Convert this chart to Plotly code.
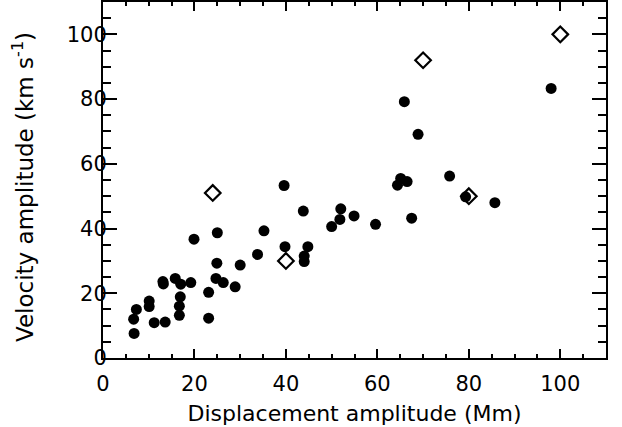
import plotly.graph_objects as go

# Filled circles: displacement amplitude (Mm), velocity amplitude (km/s)
disp_obs = [6.8, 6.7, 7.3, 10.1, 10.1, 11.2, 13.6, 13.1, 13.2, 15.8, 17.0, 16.9,
            16.7, 16.7, 19.2, 19.9, 23.1, 23.1, 25.0, 24.9, 24.7, 26.3, 28.9, 30.0,
            33.8, 35.2, 39.6, 39.8, 43.8, 44.8, 44.0, 44.0, 50.0, 52.0, 51.8, 54.9,
            59.6, 64.4, 65.1, 66.5, 65.9, 68.9, 67.5, 75.8, 79.3, 85.7, 98.0]
vel_obs = [7.6, 12.0, 15.0, 17.6, 15.9, 10.9, 11.1, 23.6, 22.9, 24.6, 22.8, 18.9,
           16.0, 13.2, 23.3, 36.7, 20.3, 12.3, 38.7, 29.3, 24.6, 23.3, 22.0, 28.7,
           32.0, 39.3, 53.3, 34.4, 45.4, 34.4, 31.5, 29.8, 40.6, 46.1, 42.8, 43.9,
           41.3, 53.4, 55.5, 54.5, 79.2, 69.1, 43.2, 56.2, 49.8, 48.0, 83.3]

# Open diamonds
disp_model = [24, 40, 70, 80, 100]
vel_model = [51, 30, 92, 50, 100]

x_ticks = [0, 20, 40, 60, 80, 100]
y_ticks = [0, 20, 40, 60, 80, 100]

FONT = "DejaVu Sans"

fig = go.Figure()
fig.add_trace(go.Scatter(
    x=disp_obs, y=vel_obs, mode="markers",
    marker=dict(symbol="circle", size=11, color="black", line=dict(width=0)),
    showlegend=False, cliponaxis=False, hoverinfo="skip"))
fig.add_trace(go.Scatter(
    x=disp_model, y=vel_model, mode="markers",
    marker=dict(symbol="diamond-open", size=12, color="black", line=dict(width=2.2, color="black")),
    showlegend=False, cliponaxis=False, hoverinfo="skip"))

axis_common = dict(
    showgrid=False, zeroline=False, showline=True, linecolor="black", linewidth=2,
    mirror="ticks", ticks="inside", tickcolor="black", tickwidth=1.5,
    tickfont=dict(family=FONT, size=21, color="black"), automargin=False,
)

fig.update_xaxes(
    range=[0, 110], tickvals=x_ticks, ticklen=9,
    minor=dict(dtick=5, ticks="inside", ticklen=4, tickcolor="black", tickwidth=1.5),
    title=dict(text="Displacement amplitude (Mm)", font=dict(family=FONT, size=22, color="black"), standoff=10),
    ticklabelstandoff=6,
    **axis_common)
fig.update_yaxes(
    range=[0, 110], tickvals=y_ticks, ticklen=14,
    minor=dict(dtick=5, ticks="inside", ticklen=8, tickcolor="black", tickwidth=1.5),
    ticklabelstandoff=-10,
    **axis_common)

fig.add_annotation(
    text="Velocity amplitude (km s<sup>-1</sup>)",
    xref="paper", yref="paper", x=0, y=0.5, xanchor="center", yanchor="middle",
    xshift=-80, yshift=-7, textangle=-90, showarrow=False,
    font=dict(family=FONT, size=23, color="black"))

fig.update_layout(
    width=622, height=427,
    margin=dict(l=103, r=16, t=2, b=69),
    paper_bgcolor="white", plot_bgcolor="white",
)

fig.write_html("out.html", config={"displayModeBar": False},
               post_script="document.body.style.margin='0';document.body.style.padding='0';")
